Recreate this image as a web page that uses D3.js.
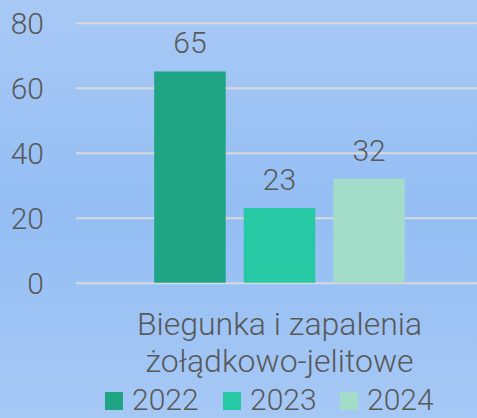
<!DOCTYPE html>
<html><head><meta charset="utf-8">
<script src="https://cdn.jsdelivr.net/npm/d3@7"></script>
<style>html,body{margin:0;padding:0;overflow:hidden}</style>
</head><body>
<script>
const categories = ["Biegunka i zapalenia żołądkowo-jelitowe"];
const categoryLines = [["Biegunka i zapalenia", "żołądkowo-jelitowe"]];
const seriesNames = ["2022", "2023", "2024"];
const values2022 = [65];
const values2023 = [23];
const values2024 = [32];
const yTicks = [0, 20, 40, 60, 80];
const colors = ["#1fa584", "#26c9a3", "#a3dcc9"];

const W = 477, H = 418;
const font = "Roboto, 'DejaVu Sans', sans-serif";
const txt = "#595959";
const svg = d3.select("body").append("svg").attr("width", W).attr("height", H);
const defs = svg.append("defs");
const grad = defs.append("linearGradient").attr("id", "bg").attr("x1", 0).attr("y1", 0).attr("x2", 0).attr("y2", 1);
grad.append("stop").attr("offset", "0%").attr("stop-color", "#a8c9f5");
grad.append("stop").attr("offset", "50%").attr("stop-color", "#94bef4");
grad.append("stop").attr("offset", "100%").attr("stop-color", "#a6c8f5");
svg.append("rect").attr("width", W).attr("height", H).attr("fill", "url(#bg)");

const x0 = d3.scaleBand().domain(categories).range([76, 483]).paddingOuter(0.312).paddingInner(0);
const x1 = d3.scaleBand().domain(seriesNames).range([0, x0.bandwidth()]).paddingInner(0.201).paddingOuter(0);
const y = d3.scaleLinear().domain([0, 80]).range([282.7, 22.7]);

const yAxis = svg.append("g").attr("transform", "translate(76,0)")
  .call(d3.axisLeft(y).tickValues(yTicks).tickSize(-(W - 76)).tickPadding(32));
yAxis.select(".domain").remove();
yAxis.selectAll("line").attr("stroke", "#d9d9d9").attr("stroke-width", 2);
yAxis.selectAll("text").attr("fill", txt).style("font-family", font).style("font-size", "30px")
  .style("font-weight", 300).attr("dy", "0.36em");

const seriesVals = [values2022, values2023, values2024];
const data = [];
categories.forEach((c, ci) => seriesNames.forEach((s, si) => data.push({c, s, v: seriesVals[si][ci], col: colors[si]})));

const g = svg.append("g");
g.selectAll("rect").data(data).join("rect")
  .attr("x", d => x0(d.c) + x1(d.s)).attr("width", x1.bandwidth())
  .attr("y", d => y(d.v)).attr("height", d => y(0) - y(d.v)).attr("fill", d => d.col);
g.selectAll("text").data(data).join("text")
  .attr("x", d => x0(d.c) + x1(d.s) + x1.bandwidth() / 2).attr("y", d => y(d.v) - 18)
  .attr("text-anchor", "middle").attr("fill", txt)
  .style("font-family", font).style("font-size", "30px").style("font-weight", 300)
  .text(d => d.v);

categories.forEach((c, ci) => {
  const t = svg.append("text").attr("text-anchor", "middle").attr("fill", txt)
    .style("font-family", font).style("font-size", "32px").style("font-weight", 300);
  categoryLines[ci].forEach((line, li) => {
    t.append("tspan").attr("x", x0(c) + x0.bandwidth() / 2).attr("y", 335 + li * 37).text(line);
  });
});

const legendX = [105, 223, 340];
const lg = svg.append("g");
seriesNames.forEach((s, i) => {
  lg.append("rect").attr("x", legendX[i]).attr("y", 392).attr("width", 18).attr("height", 18).attr("fill", colors[i]);
  lg.append("text").attr("x", legendX[i] + 27).attr("y", 410).attr("fill", txt)
    .style("font-family", font).style("font-size", "30px").style("font-weight", 300).text(s);
});
</script>
</body></html>
